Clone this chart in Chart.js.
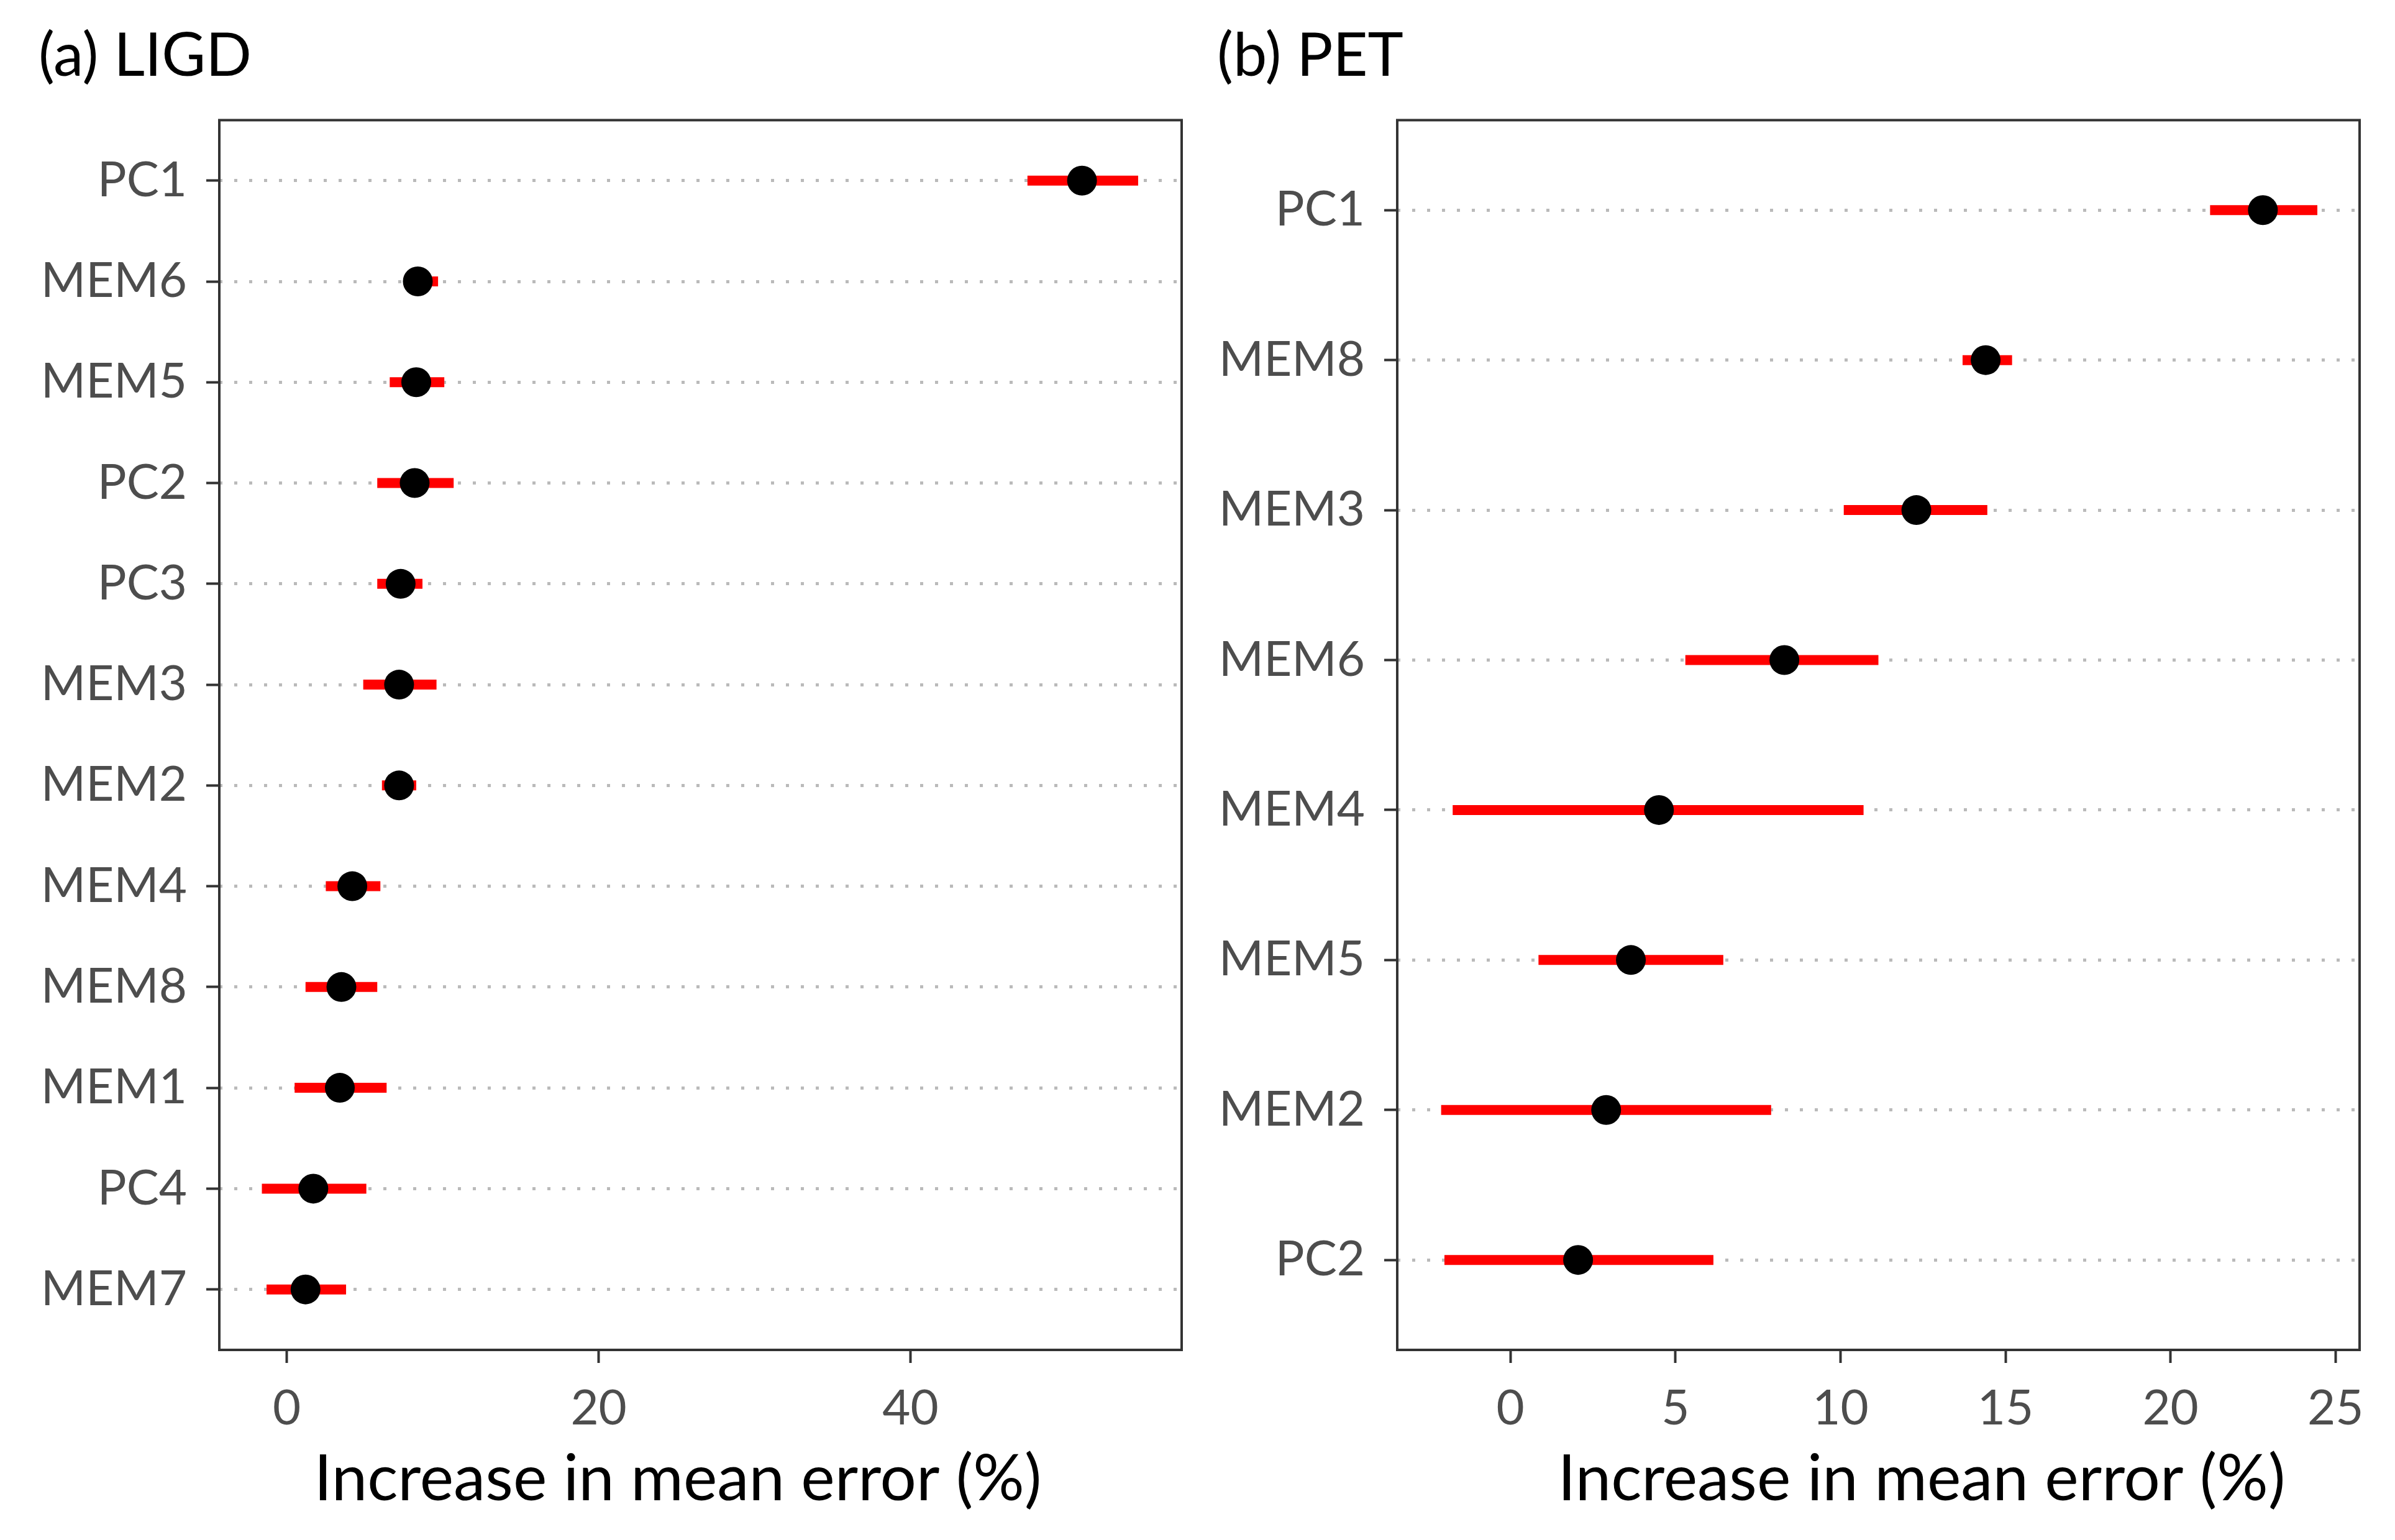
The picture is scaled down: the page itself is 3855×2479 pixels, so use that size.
<!DOCTYPE html>
<html>
<head>
<meta charset="utf-8">
<script src="https://cdn.jsdelivr.net/npm/chart.js@4.4.1/dist/chart.umd.min.js"></script>
<style>
  html, body { margin: 0; padding: 0; background: #fff; }
  #wrap { position: relative; width: 3855px; height: 2479px; }
  canvas { position: absolute; top: 0; }
  #chart-ligd { left: 0; }
  #chart-pet { left: 1930px; }
</style>
</head>
<body>
<div id="wrap">
  <canvas id="chart-ligd" width="1930" height="2479"></canvas>
  <canvas id="chart-pet" width="1925" height="2479"></canvas>
</div>
<script>
// (a) LIGD, top to bottom
const ligdVars = ['PC1', 'MEM6', 'MEM5', 'PC2', 'PC3', 'MEM3', 'MEM2', 'MEM4', 'MEM8', 'MEM1', 'PC4', 'MEM7'];
const ligdMean = [51.0, 8.4, 8.3, 8.2, 7.3, 7.2, 7.2, 4.2, 3.5, 3.4, 1.7, 1.2];
const ligdLow  = [47.5, 7.5, 6.6, 5.8, 5.8, 4.9, 6.1, 2.5, 1.2, 0.5, -1.6, -1.3];
const ligdHigh = [54.6, 9.7, 10.1, 10.7, 8.7, 9.6, 8.3, 6.0, 5.8, 6.4, 5.1, 3.8];
const ligdTicks = [0, 20, 40];

// (b) PET, top to bottom
const petVars = ['PC1', 'MEM8', 'MEM3', 'MEM6', 'MEM4', 'MEM5', 'MEM2', 'PC2'];
const petMean = [22.8, 14.4, 12.3, 8.3, 4.5, 3.65, 2.9, 2.05];
const petLow  = [21.2, 13.7, 10.1, 5.3, -1.75, 0.85, -2.1, -2.0];
const petHigh = [24.45, 15.2, 14.45, 11.15, 10.7, 6.45, 7.9, 6.15];
const petTicks = [0, 5, 10, 15, 20, 25];

const FONT = 'Lato, "Open Sans", sans-serif';
const AXIS_TITLE = 'Increase in mean error (%)';

// panel frame around the plot area
const frameBox = {
    id: 'frameBox',
    afterDraw(chart) {
        const { ctx, chartArea: a } = chart;
        ctx.save();
        ctx.strokeStyle = '#333333';
        ctx.lineWidth = 4;
        ctx.strokeRect(a.left, a.top, a.right - a.left, a.bottom - a.top);
        ctx.restore();
    }
};

// x axis title, placed like the original (not exactly centred on the panel)
const axisLabel = {
    id: 'axisLabel',
    afterDraw(chart, args, opts) {
        const ctx = chart.ctx;
        ctx.save();
        ctx.font = `${opts.size}px ${FONT}`;
        ctx.fillStyle = '#000';
        ctx.textAlign = 'center';
        ctx.textBaseline = 'alphabetic';
        ctx.fillText(opts.text, opts.x, opts.y);
        ctx.restore();
    }
};

function makePanel(id, cfg) {
    const { vars, mean, low, high, xMin, xMax, xTicks, title, padLeft, padRight, yWidth, labelX } = cfg;

    const bars = vars.map((v, i) => ({
        type: 'line',
        label: v,
        data: [{ x: low[i], y: i }, { x: high[i], y: i }],
        borderColor: '#ff0000',
        borderWidth: 16,
        borderCapStyle: 'butt',
        pointRadius: 0,
        order: 1
    }));

    const points = {
        type: 'scatter',
        label: 'mean',
        data: vars.map((v, i) => ({ x: mean[i], y: i })),
        backgroundColor: '#000',
        borderColor: '#000',
        borderWidth: 0,
        pointRadius: 24,
        order: 0
    };

    return new Chart(document.getElementById(id), {
        type: 'scatter',
        data: { datasets: [points, ...bars] },
        options: {
            responsive: false,
            devicePixelRatio: 1,
            animation: false,
            events: [],
            layout: { padding: { left: padLeft, right: padRight, top: 0, bottom: 0 } },
            plugins: {
                legend: { display: false },
                tooltip: { enabled: false },
                title: {
                    display: true,
                    text: title,
                    align: 'start',
                    color: '#000',
                    font: { family: FONT, size: 97, weight: 'normal' },
                    padding: { top: 33, bottom: 44 }
                },
                axisLabel: { text: AXIS_TITLE, x: labelX, y: 2415, size: 103 }
            },
            scales: {
                x: {
                    type: 'linear',
                    min: xMin,
                    max: xMax,
                    afterBuildTicks: s => { s.ticks = xTicks.map(v => ({ value: v })); },
                    afterFit: s => { s.height = 306; },
                    ticks: {
                        font: { family: FONT, size: 78 },
                        color: '#4d4d4d',
                        padding: 27,
                        maxRotation: 0,
                        autoSkip: false
                    },
                    grid: { drawOnChartArea: false, drawTicks: true, tickLength: 21, tickColor: '#333333', tickWidth: 4 },
                    border: { display: false }
                },
                y: {
                    type: 'linear',
                    reverse: true,
                    min: -0.6,
                    max: vars.length - 0.4,
                    afterBuildTicks: s => { s.ticks = vars.map((v, i) => ({ value: i })); },
                    afterFit: s => { s.width = yWidth; },
                    ticks: {
                        callback: v => vars[v],
                        font: { family: FONT, size: 78 },
                        color: '#4d4d4d',
                        padding: 31,
                        autoSkip: false
                    },
                    grid: {
                        color: '#bababa',
                        lineWidth: 5,
                        tickLength: 21,
                        tickColor: '#333333',
                        tickWidth: 4,
                        tickBorderDash: []
                    },
                    border: { display: false, dash: [5, 19] }
                }
            }
        },
        plugins: [frameBox, axisLabel]
    });
}

makePanel('chart-ligd', {
    vars: ligdVars, mean: ligdMean, low: ligdLow, high: ligdHigh,
    xMin: -4.33, xMax: 57.39, xTicks: ligdTicks,
    title: '(a) LIGD', padLeft: 62, padRight: 28, yWidth: 291, labelX: 1091
});

makePanel('chart-pet', {
    vars: petVars, mean: petMean, low: petLow, high: petHigh,
    xMin: -3.43, xMax: 25.73, xTicks: petTicks,
    title: '(b) PET', padLeft: 29, padRight: 57, yWidth: 290, labelX: 1163
});
</script>
</body>
</html>
